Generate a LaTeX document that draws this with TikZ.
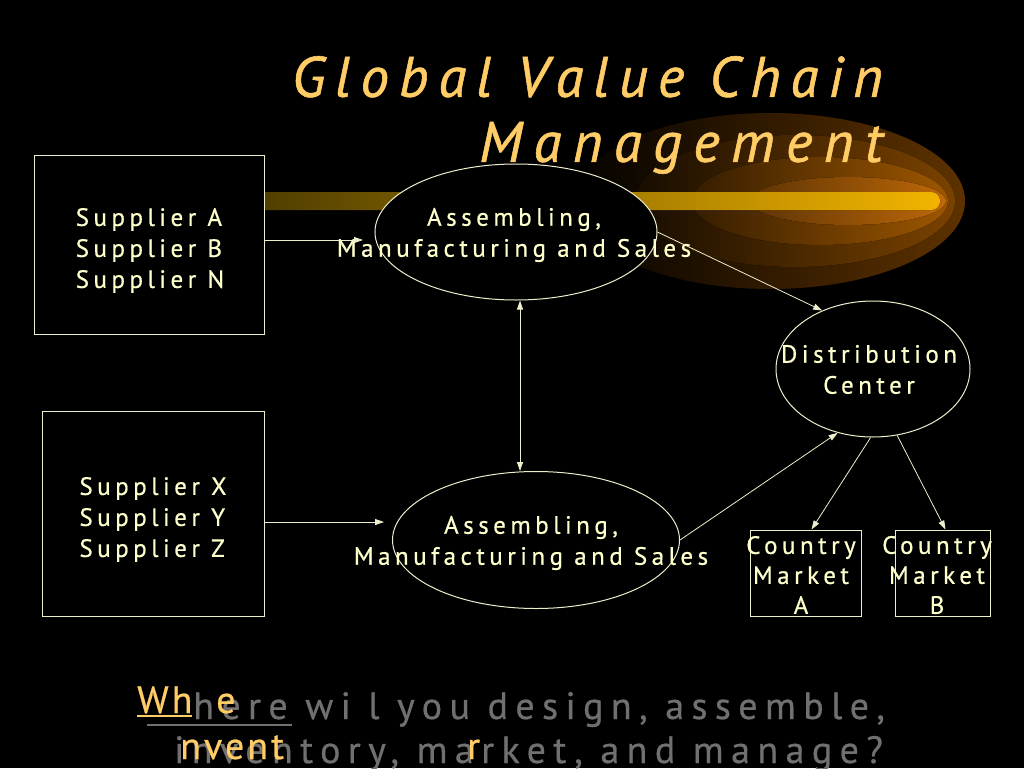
\documentclass[tikz,border=0pt]{standalone}
\usepackage{fontspec}
\usetikzlibrary{arrows.meta,shapes.geometric}
\newfontfamily\bodyfont{PT Sans}[LetterSpace=18, FakeBold=0.6]
\newfontfamily\titlefontA{PT Sans Italic}[LetterSpace=17.5, FakeBold=1]
\newfontfamily\titlefontB{PT Sans Italic}[LetterSpace=20, FakeBold=1]
\newfontfamily\bottomfont{PT Sans}[LetterSpace=19.5, FakeBold=0.6]
\newfontfamily\bottomfontY{PT Sans}[LetterSpace=8, FakeBold=0.6]
\definecolor{txtc}{HTML}{FFFFCC}
\definecolor{linec}{HTML}{EEEECC}
\definecolor{titlec}{HTML}{FFCC66}
\definecolor{greyc}{HTML}{707070}
\definecolor{glowA}{HTML}{5E3200}
\definecolor{glowB}{HTML}{7E4400}
\definecolor{glowC}{HTML}{A45A00}
\definecolor{glowD}{HTML}{C86E08}
\definecolor{barL}{HTML}{4D3C00}
\definecolor{barR}{HTML}{F2B400}
\tikzset{
  ln/.style={draw=linec, line width=1pt},
  boxn/.style={ln, fill=black, rectangle, inner sep=0pt},
  elln/.style={ln, fill=black, ellipse, inner sep=0pt},
  txt/.style={text=txtc, font=\bodyfont\fontsize{25}{31}\selectfont, align=center, inner sep=0pt},
  arr/.style={draw=linec, line width=0.8pt, -{Triangle[length=9pt,width=6pt]}},
  darr/.style={draw=linec, line width=0.8pt, {Triangle[length=9pt,width=6pt]}-{Triangle[length=9pt,width=6pt]}},
  bott/.style={font=\bottomfont\fontsize{38}{44}\selectfont, inner sep=0pt, anchor=base west},
  botty/.style={font=\bottomfontY\fontsize{38}{44}\selectfont, inner sep=0pt, anchor=base west, text=titlec},
}
\begin{document}
\begin{tikzpicture}[x=1pt,y=-1pt]
\useasboundingbox (0,0) rectangle (1024,768);
\fill[black] (0,0) rectangle (1024,768);
% glow
\begin{scope}
\clip (770,201) ellipse [x radius=195, y radius=88];
\fill[left color=black, right color=glowA] (560,100) rectangle (966,300);
\end{scope}
\begin{scope}
\clip (795,201) ellipse [x radius=160, y radius=66];
\fill[left color=black, right color=glowB] (560,100) rectangle (966,300);
\end{scope}
\begin{scope}
\clip (820,201) ellipse [x radius=128, y radius=44];
\fill[left color=black, right color=glowC] (560,100) rectangle (966,300);
\end{scope}
\begin{scope}
\clip (848,201) ellipse [x radius=98, y radius=24];
\fill[left color=black, right color=glowD] (560,100) rectangle (966,300);
\end{scope}
\fill[left color=barL, right color=barR, rounded corners=8.5pt] (250,192) rectangle (940,210);
% title
\node[text=titlec, align=right, inner sep=0pt, anchor=east, font=\titlefontA\fontsize{57}{65}\selectfont] (title) at (883,115)
  {Global Value Chain\\{\titlefontB Management}};
% boxes and ellipses
\node[boxn, minimum width=230pt, minimum height=179pt] (s1) at (149,244.5) {};
\node[boxn, minimum width=222pt, minimum height=205pt] (s2) at (153,513.5) {};
\node[elln, minimum width=282pt, minimum height=136pt] (e1) at (516,232) {};
\node[elln, minimum width=287pt, minimum height=137pt] (e2) at (536,540) {};
\node[elln, minimum width=194pt, minimum height=136pt] (d) at (873,369) {};
\node[boxn, minimum width=111pt, minimum height=86pt] (ca) at (805.5,573) {};
\node[boxn, minimum width=95pt, minimum height=86pt] (cb) at (942.5,573) {};
% texts
\node[txt, align=left] (s1t) at (150,250.5) {Supplier A\\Supplier B\\Supplier N};
\node[txt, align=left] (s2t) at (153,519.5) {Supplier X\\Supplier Y\\Supplier Z};
\node[txt] (e1t) at (514,235) {Assembling,\\Manufacturing and Sales};
\node[txt] (e2t) at (531,543) {Assembling,\\Manufacturing and Sales};
\node[txt] (dt) at (869,369.5) {Distribution\\Center};
\node[txt, font=\bodyfont\fontsize{25}{30}\selectfont] (cat) at (801,575) {Country\\Market\\A};
\node[txt, font=\bodyfont\fontsize{25}{30}\selectfont] (cbt) at (937,575) {Country\\Market\\B};
% connectors
\coordinate (a1end) at (363,240);
\coordinate (a2end) at (384,522);
\coordinate (vx) at (520,0);
\draw[arr] (s1.east |- a1end) -- (a1end);
\draw[arr] (s2.east |- a2end) -- (a2end);
\draw[darr] (vx |- e1.south) -- (vx |- e2.north);
\draw[arr] (e1.east) -- (d.131);
\draw[arr] (e2.east) -- (d.241);
\draw[arr] (d.268) -- ([xshift=6pt]ca.north);
\draw[arr] (d.290) -- ([xshift=3pt]cb.north);
% bottom question
\node[bott, text=greyc] (q1) at (193,719) {here wi l you design, assemble,};
\node[bott, text=greyc] (q2) at (174,763) {inventory, market, and manage?};
\draw[greyc, line width=2.5pt] (147,725) -- (292,725);
\node[botty] (y1) at (137,713) {Wh};
\node[botty] (y2) at (216,713) {e};
\draw[titlec, line width=2.5pt] (137,716) -- (192,716);
\node[botty] (y3) at (180,759) {nvent};
\node[botty] (y4) at (467,759) {r};
\end{tikzpicture}
\end{document}
